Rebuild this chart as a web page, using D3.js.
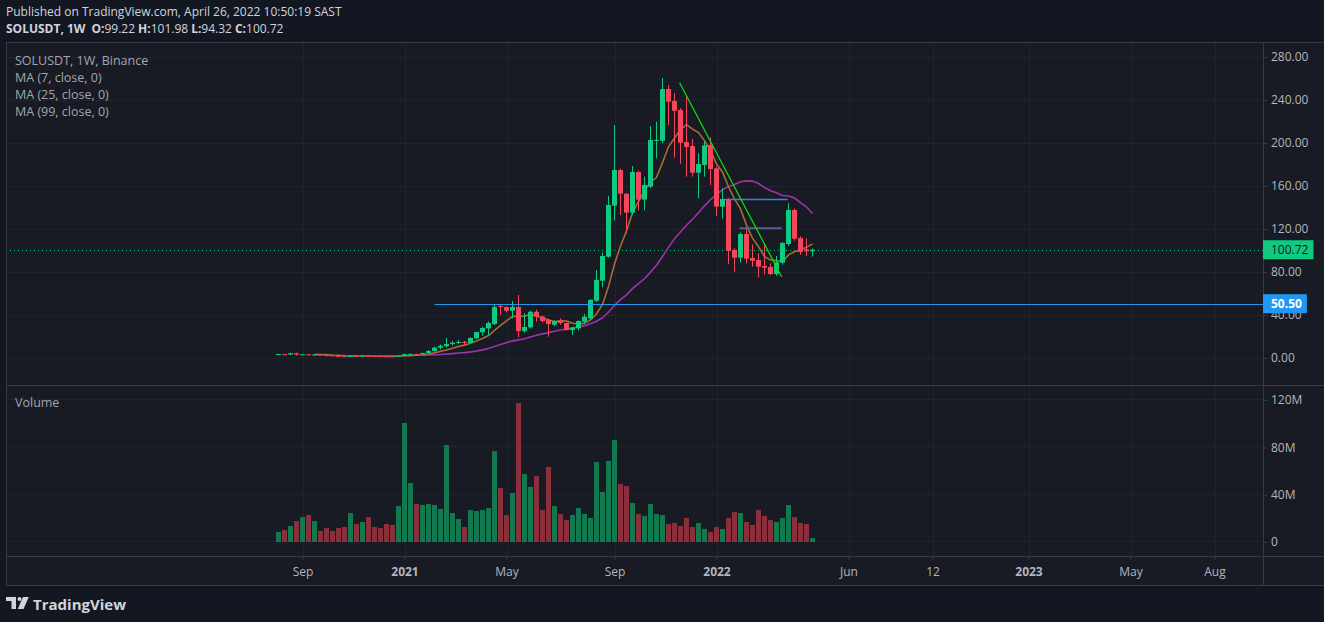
<!DOCTYPE html>
<html>
<head>
<meta charset="utf-8">
<script src="https://cdn.jsdelivr.net/npm/d3@7"></script>
<style>
  html, body { margin: 0; padding: 0; background: #131722; }
  svg { display: block; }
  text { font-family: "Open Sans", "Noto Sans", sans-serif; }
</style>
</head>
<body>
<svg id="chart" width="1324" height="622"></svg>
<script>
// weekly SOLUSDT candles, first week 2020-08-10, last week 2022-04-25
var firstWeek = "2020-08-10";
var lastWeek = "2022-04-25";

var opens = [2.8, 3.6, 3.2, 4.4, 3.1, 3.4, 2.9, 3.2, 2.7, 2.4,
  2.0, 1.6, 1.3, 1.9, 1.8, 2.3, 1.9, 1.7, 1.6, 1.55,
  1.5, 2.0, 3.6, 3.8, 3.6, 4.6, 6.5, 9.6, 11.0, 13.0,
  14.0, 15.0, 14.0, 18.3, 24.0, 27.5, 31.6, 48.5, 47.4, 44.0,
  47.4, 25.0, 28.5, 43.0, 38.5, 35.3, 31.0, 34.4, 32.6, 26.0,
  27.6, 33.8, 36.9, 53.3, 71.9, 94.2, 141.7, 174.9, 152.8, 135.2,
  173.0, 147.3, 159.4, 202.1, 202.1, 250.2, 239.1, 230.7, 200.9, 197.2,
  172.4, 179.5, 198.1, 176.4, 140.8, 147.9, 100.5, 93.3, 115.3, 93.0,
  91.2, 85.6, 84.7, 78.1, 88.7, 106.0, 137.7, 111.6, 101.0, 99.22];
var highs = [4.0, 3.8, 4.9, 4.9, 3.8, 3.6, 3.4, 3.3, 2.9, 2.5,
  2.2, 1.7, 2.1, 2.3, 2.6, 2.5, 2.0, 1.8, 1.7, 1.7,
  2.1, 3.9, 4.1, 4.0, 4.9, 7.4, 10.5, 12.5, 18.6, 16.0,
  17.0, 15.8, 19.3, 24.5, 29.0, 34.0, 49.3, 50.0, 48.0, 53.0,
  58.6, 41.6, 44.0, 45.0, 39.5, 36.0, 35.0, 36.9, 33.0, 29.0,
  35.0, 41.0, 55.0, 81.9, 98.0, 150.7, 216.7, 176.1, 153.5, 178.6,
  174.2, 168.7, 215.8, 219.8, 260.5, 254.0, 246.5, 232.6, 244.0, 204.0,
  190.4, 201.2, 205.3, 178.0, 157.8, 149.0, 102.0, 117.0, 121.6, 105.7,
  97.4, 106.0, 88.0, 94.9, 108.0, 144.2, 139.0, 113.2, 111.3, 101.98];
var lows = [2.5, 2.7, 3.0, 2.2, 2.7, 2.6, 2.7, 2.5, 2.2, 1.9,
  1.5, 1.2, 1.0, 1.7, 1.75, 1.6, 1.6, 1.4, 1.4, 1.2,
  1.4, 1.9, 2.9, 3.2, 3.3, 4.3, 5.8, 8.0, 9.6, 11.5,
  13.0, 11.5, 13.5, 17.5, 20.7, 21.4, 30.5, 40.0, 42.5, 36.9,
  19.3, 23.5, 27.5, 33.8, 33.0, 19.8, 29.5, 31.0, 25.5, 21.4,
  25.5, 31.5, 35.5, 52.0, 65.8, 93.3, 127.7, 133.0, 116.0, 133.0,
  137.4, 137.4, 158.0, 185.7, 200.0, 216.7, 186.3, 180.7, 168.7, 168.7,
  148.6, 168.7, 160.9, 132.1, 129.6, 87.4, 80.3, 88.7, 88.0, 85.0,
  75.0, 77.8, 77.2, 76.3, 87.0, 104.2, 109.1, 96.0, 94.9, 94.32];
var closes = [3.6, 3.2, 4.4, 3.1, 3.4, 2.9, 3.2, 2.7, 2.4, 2.0,
  1.6, 1.3, 1.9, 1.8, 2.3, 1.9, 1.7, 1.6, 1.55, 1.5,
  2.0, 3.6, 3.8, 3.6, 4.6, 6.5, 9.6, 11.4, 13.0, 14.2,
  15.0, 14.0, 18.6, 24.2, 27.9, 32.6, 47.4, 47.5, 44.0, 47.4,
  25.0, 28.8, 43.0, 38.5, 34.4, 31.6, 34.4, 32.6, 26.0, 28.4,
  34.4, 38.4, 54.0, 72.6, 94.9, 142.3, 174.9, 152.8, 135.2, 173.0,
  147.3, 160.9, 202.8, 202.8, 250.2, 238.4, 230.0, 200.3, 196.3, 172.4,
  180.5, 197.8, 175.8, 140.8, 147.9, 99.8, 93.3, 115.3, 92.4, 90.5,
  85.0, 84.0, 78.1, 89.0, 107.0, 137.7, 111.0, 98.6, 99.2, 100.72];
// volume in millions
var volumes = [8.5, 10.1, 13.5, 17.7, 21.0, 22.8, 17.7, 9.3, 11.8, 9.3,
  11.8, 12.7, 24.5, 15.2, 16.9, 21.1, 12.7, 11.8, 15.2, 14.4,
  30.4, 100.6, 49.9, 32.1, 31.3, 32.1, 31.3, 27.9, 82.0, 24.5,
  19.4, 12.7, 27.0, 26.2, 27.0, 28.7, 76.9, 45.6, 22.8, 41.4,
  117.5, 57.5, 46.5, 55.8, 27.0, 63.4, 30.4, 23.7, 18.6, 22.8,
  28.7, 23.7, 20.3, 67.6, 42.3, 68.5, 86.2, 49.0, 47.3, 33.0,
  23.7, 22.0, 32.1, 23.7, 22.8, 15.2, 16.1, 13.5, 20.3, 12.7,
  16.1, 11.0, 8.5, 12.7, 11.0, 20.3, 25.4, 24.5, 16.9, 14.4,
  27.0, 22.0, 18.6, 16.9, 20.3, 31.3, 21.1, 16.1, 15.2, 3.4];

var priceTicks = [0, 40, 80, 120, 160, 200, 240, 280];
var volumeTicks = [0, 40, 80, 120];
var volumeTickLabels = ["0", "40M", "80M", "120M"];
var timeTicks = ["2020-09-07", "2021-01-04", "2021-05-03", "2021-09-06", "2022-01-03",
  "2022-06-06", "2022-09-12", "2023-01-02", "2023-05-01", "2023-08-07"];
var timeTickLabels = ["Sep", "2021", "May", "Sep", "2022", "Jun", "12", "2023", "May", "Aug"];

var lastPrice = 100.72;
var rayPrice = 50.50;
var rayStart = "2021-02-08";
var trendStart = ["2021-11-21", 256.0];
var trendEnd = ["2022-03-20", 75.6];
var levelA = ["2022-01-10", "2022-03-27", 148.2];
var levelB = ["2022-01-30", "2022-03-20", 120.6];

var parseDate = d3.utcParse("%Y-%m-%d");
var weeks = d3.utcMonday.range(parseDate(firstWeek), d3.utcDay.offset(parseDate(lastWeek), 1));

var candles = weeks.map(function (d, i) {
  return { date: d, o: opens[i], h: highs[i], l: lows[i], c: closes[i], v: volumes[i] };
});

function movingAvg(n) {
  return candles.map(function (d, i) {
    if (i < n - 1) return null;
    var s = 0;
    for (var j = i - n + 1; j <= i; j++) s += closes[j];
    return { date: d.date, v: s / n };
  }).filter(function (d) { return d; });
}

// layout (window.top is taken, so paneTop)
var left = 6, right = 1263, paneTop = 42, split = 385, axisTop = 556, bottom = 585;
var upColor = "#0ecb81", downColor = "#f6465d";

var svg = d3.select("#chart");

var x = d3.scaleUtc()
  .domain([weeks[0], d3.utcWeek.offset(weeks[0], 100)])
  .range([278.5, 878.5]);
var y = d3.scaleLinear().domain([0, 280]).range([358, 57]);
var yv = d3.scaleLinear().domain([0, 120]).range([542, 400]);

// frame
svg.append("rect").attr("x", left + 0.5).attr("y", paneTop + 0.5)
  .attr("width", 1324 - left).attr("height", bottom - paneTop)
  .attr("fill", "#181b23").attr("stroke", "#363a45");

// grid
var grid = svg.append("g").attr("stroke", "#1f232c").attr("stroke-width", 1);
priceTicks.forEach(function (t) {
  var yy = Math.round(y(t)) + 0.5;
  grid.append("line").attr("x1", left + 1).attr("x2", right).attr("y1", yy).attr("y2", yy);
});
volumeTicks.forEach(function (t) {
  var yy = Math.round(yv(t)) - 0.5;
  grid.append("line").attr("x1", left + 1).attr("x2", right).attr("y1", yy).attr("y2", yy);
});
timeTicks.forEach(function (t) {
  var xx = Math.round(x(parseDate(t))) + 0.5;
  if (xx > right) return;
  grid.append("line").attr("x1", xx).attr("x2", xx).attr("y1", paneTop + 1).attr("y2", axisTop);
});

// separators
var sep = svg.append("g").attr("stroke", "#363a45");
sep.append("line").attr("x1", left).attr("x2", 1324).attr("y1", split + 0.5).attr("y2", split + 0.5);
sep.append("line").attr("x1", left).attr("x2", 1324).attr("y1", axisTop + 0.5).attr("y2", axisTop + 0.5);
sep.append("line").attr("x1", right + 0.5).attr("x2", right + 0.5).attr("y1", paneTop).attr("y2", bottom);

svg.append("clipPath").attr("id", "pricePane").append("rect")
  .attr("x", left + 1).attr("y", paneTop + 1).attr("width", right - left - 1).attr("height", split - paneTop - 1);

// volume bars
svg.append("g").selectAll("rect").data(candles).enter().append("rect")
  .attr("x", function (d) { return x(d.date) - 2.5; })
  .attr("width", 5)
  .attr("y", function (d) { return yv(d.v); })
  .attr("height", function (d) { return yv(0) - yv(d.v); })
  .attr("fill", function (d) { return d.c >= d.o ? "#12784f" : "#8b2f3d"; });

var pane = svg.append("g").attr("clip-path", "url(#pricePane)");

// last price dotted line
pane.append("line")
  .attr("x1", left).attr("x2", right)
  .attr("y1", Math.round(y(lastPrice)) + 0.5).attr("y2", Math.round(y(lastPrice)) + 0.5)
  .attr("stroke", upColor).attr("stroke-dasharray", "1,3");

// moving averages
var maLine = d3.line().x(function (d) { return x(d.date); }).y(function (d) { return y(d.v); });
pane.append("path").datum(movingAvg(25)).attr("d", maLine)
  .attr("fill", "none").attr("stroke", "#9c33ab").attr("stroke-width", 1.6);
pane.append("path").datum(movingAvg(7)).attr("d", maLine)
  .attr("fill", "none").attr("stroke", "#a36d34").attr("stroke-width", 1.6);

// candles
var cg = pane.append("g").selectAll("g").data(candles).enter().append("g");
cg.append("line")
  .attr("x1", function (d) { return x(d.date); })
  .attr("x2", function (d) { return x(d.date); })
  .attr("y1", function (d) { return y(d.h); })
  .attr("y2", function (d) { return y(d.l); })
  .attr("stroke", function (d) { return d.c >= d.o ? upColor : downColor; });
cg.append("rect")
  .attr("x", function (d) { return x(d.date) - 2.5; })
  .attr("width", 5)
  .attr("y", function (d) { return y(Math.max(d.o, d.c)); })
  .attr("height", function (d) { return Math.max(1, Math.abs(y(d.o) - y(d.c))); })
  .attr("fill", function (d) { return d.c >= d.o ? upColor : downColor; });

// drawings
pane.append("line")
  .attr("x1", x(parseDate(rayStart))).attr("x2", right)
  .attr("y1", Math.round(y(rayPrice)) + 0.5).attr("y2", Math.round(y(rayPrice)) + 0.5)
  .attr("stroke", "#2196f3");
pane.append("line")
  .attr("x1", x(parseDate(levelA[0]))).attr("x2", x(parseDate(levelA[1])))
  .attr("y1", Math.round(y(levelA[2])) + 0.5).attr("y2", Math.round(y(levelA[2])) + 0.5)
  .attr("stroke", "#3a7ff0").attr("stroke-width", 1.5);
pane.append("line")
  .attr("x1", x(parseDate(levelB[0]))).attr("x2", x(parseDate(levelB[1])))
  .attr("y1", y(levelB[2])).attr("y2", y(levelB[2]))
  .attr("stroke", "#4d6391").attr("stroke-width", 2);
pane.append("line")
  .attr("x1", x(parseDate(trendStart[0]))).attr("y1", y(trendStart[1]))
  .attr("x2", x(parseDate(trendEnd[0]))).attr("y2", y(trendEnd[1]))
  .attr("stroke", "#12d80c").attr("stroke-width", 1.3);

// axes
var axisColor = "#b2b5be";
var pAxis = svg.append("g").attr("transform", "translate(" + right + ",0)")
  .call(d3.axisRight(y).tickValues(priceTicks).tickFormat(d3.format(".2f")).tickSize(4).tickPadding(4));
var vAxis = svg.append("g").attr("transform", "translate(" + right + ",0)")
  .call(d3.axisRight(yv).tickValues(volumeTicks)
    .tickFormat(function (d, i) { return volumeTickLabels[i]; }).tickSize(4).tickPadding(4));
var tAxis = svg.append("g").attr("transform", "translate(0," + axisTop + ")")
  .call(d3.axisBottom(x).tickValues(timeTicks.map(parseDate))
    .tickFormat(function (d, i) { return timeTickLabels[i]; }).tickSize(4).tickPadding(7));
[pAxis, vAxis, tAxis].forEach(function (a) {
  a.select(".domain").remove();
  a.selectAll(".tick line").attr("stroke", "#363a45");
  a.selectAll(".tick text").attr("fill", axisColor).attr("font-size", 12)
    .style("font-family", "'Open Sans', sans-serif");
});
tAxis.selectAll(".tick text").attr("font-weight", function (d, i) {
  return /^\d{4}$/.test(timeTickLabels[i]) ? "bold" : "normal";
});

// price tags on the axis
function priceTag(value, bg, fg, weight) {
  var g = svg.append("g").attr("transform", "translate(" + right + "," + y(value) + ")");
  var r = g.append("rect").attr("fill", bg);
  var t = g.append("text").attr("x", 8).attr("dy", "0.35em").attr("fill", fg)
    .attr("font-size", 12).attr("font-weight", weight).text(d3.format(".2f")(value));
  var w = t.node().getComputedTextLength();
  r.attr("x", 0).attr("y", -9.5).attr("width", w + 13).attr("height", 19);
}
priceTag(lastPrice, upColor, "#131722", "normal");
priceTag(rayPrice, "#2196f3", "#ffffff", "bold");

// header
var head = svg.append("g").attr("fill", "#d1d4dc").attr("font-size", 12);
head.append("text").attr("x", 6).attr("y", 16)
  .text("Published on TradingView.com, April 26, 2022 10:50:19 SAST");
var l2 = head.append("text").attr("x", 6).attr("y", 33);
l2.append("tspan").attr("font-weight", "bold").text("SOLUSDT, 1W");
[["O", opens], ["H", highs], ["L", lows], ["C", closes]].forEach(function (p, i) {
  l2.append("tspan").attr("dx", i === 0 ? 6 : 3).attr("font-weight", "bold").text(p[0] + ":");
  l2.append("tspan").text(p[1][p[1].length - 1]);
});

// legend
var legend = svg.append("g").attr("fill", "#a3a6af").attr("font-size", 12.5);
["SOLUSDT, 1W, Binance", "MA (7, close, 0)", "MA (25, close, 0)", "MA (99, close, 0)"]
  .forEach(function (s, i) {
    legend.append("text").attr("x", 15).attr("y", 65 + i * 17).text(s);
  });
svg.append("text").attr("x", 15).attr("y", 407).attr("fill", "#a3a6af").attr("font-size", 12.5).text("Volume");

// logo
var logo = svg.append("g").attr("fill", "#d1d4dc");
logo.append("path").attr("d", "M6,597H16V609H11.5V601H6Z");
logo.append("circle").attr("cx", 19.5).attr("cy", 599).attr("r", 2);
logo.append("path").attr("d", "M23,597H28.8L23.5,609H17.8Z");
logo.append("text").attr("x", 33).attr("y", 610).attr("font-size", 15).attr("font-weight", "bold")
  .text("TradingView");
</script>
</body>
</html>
